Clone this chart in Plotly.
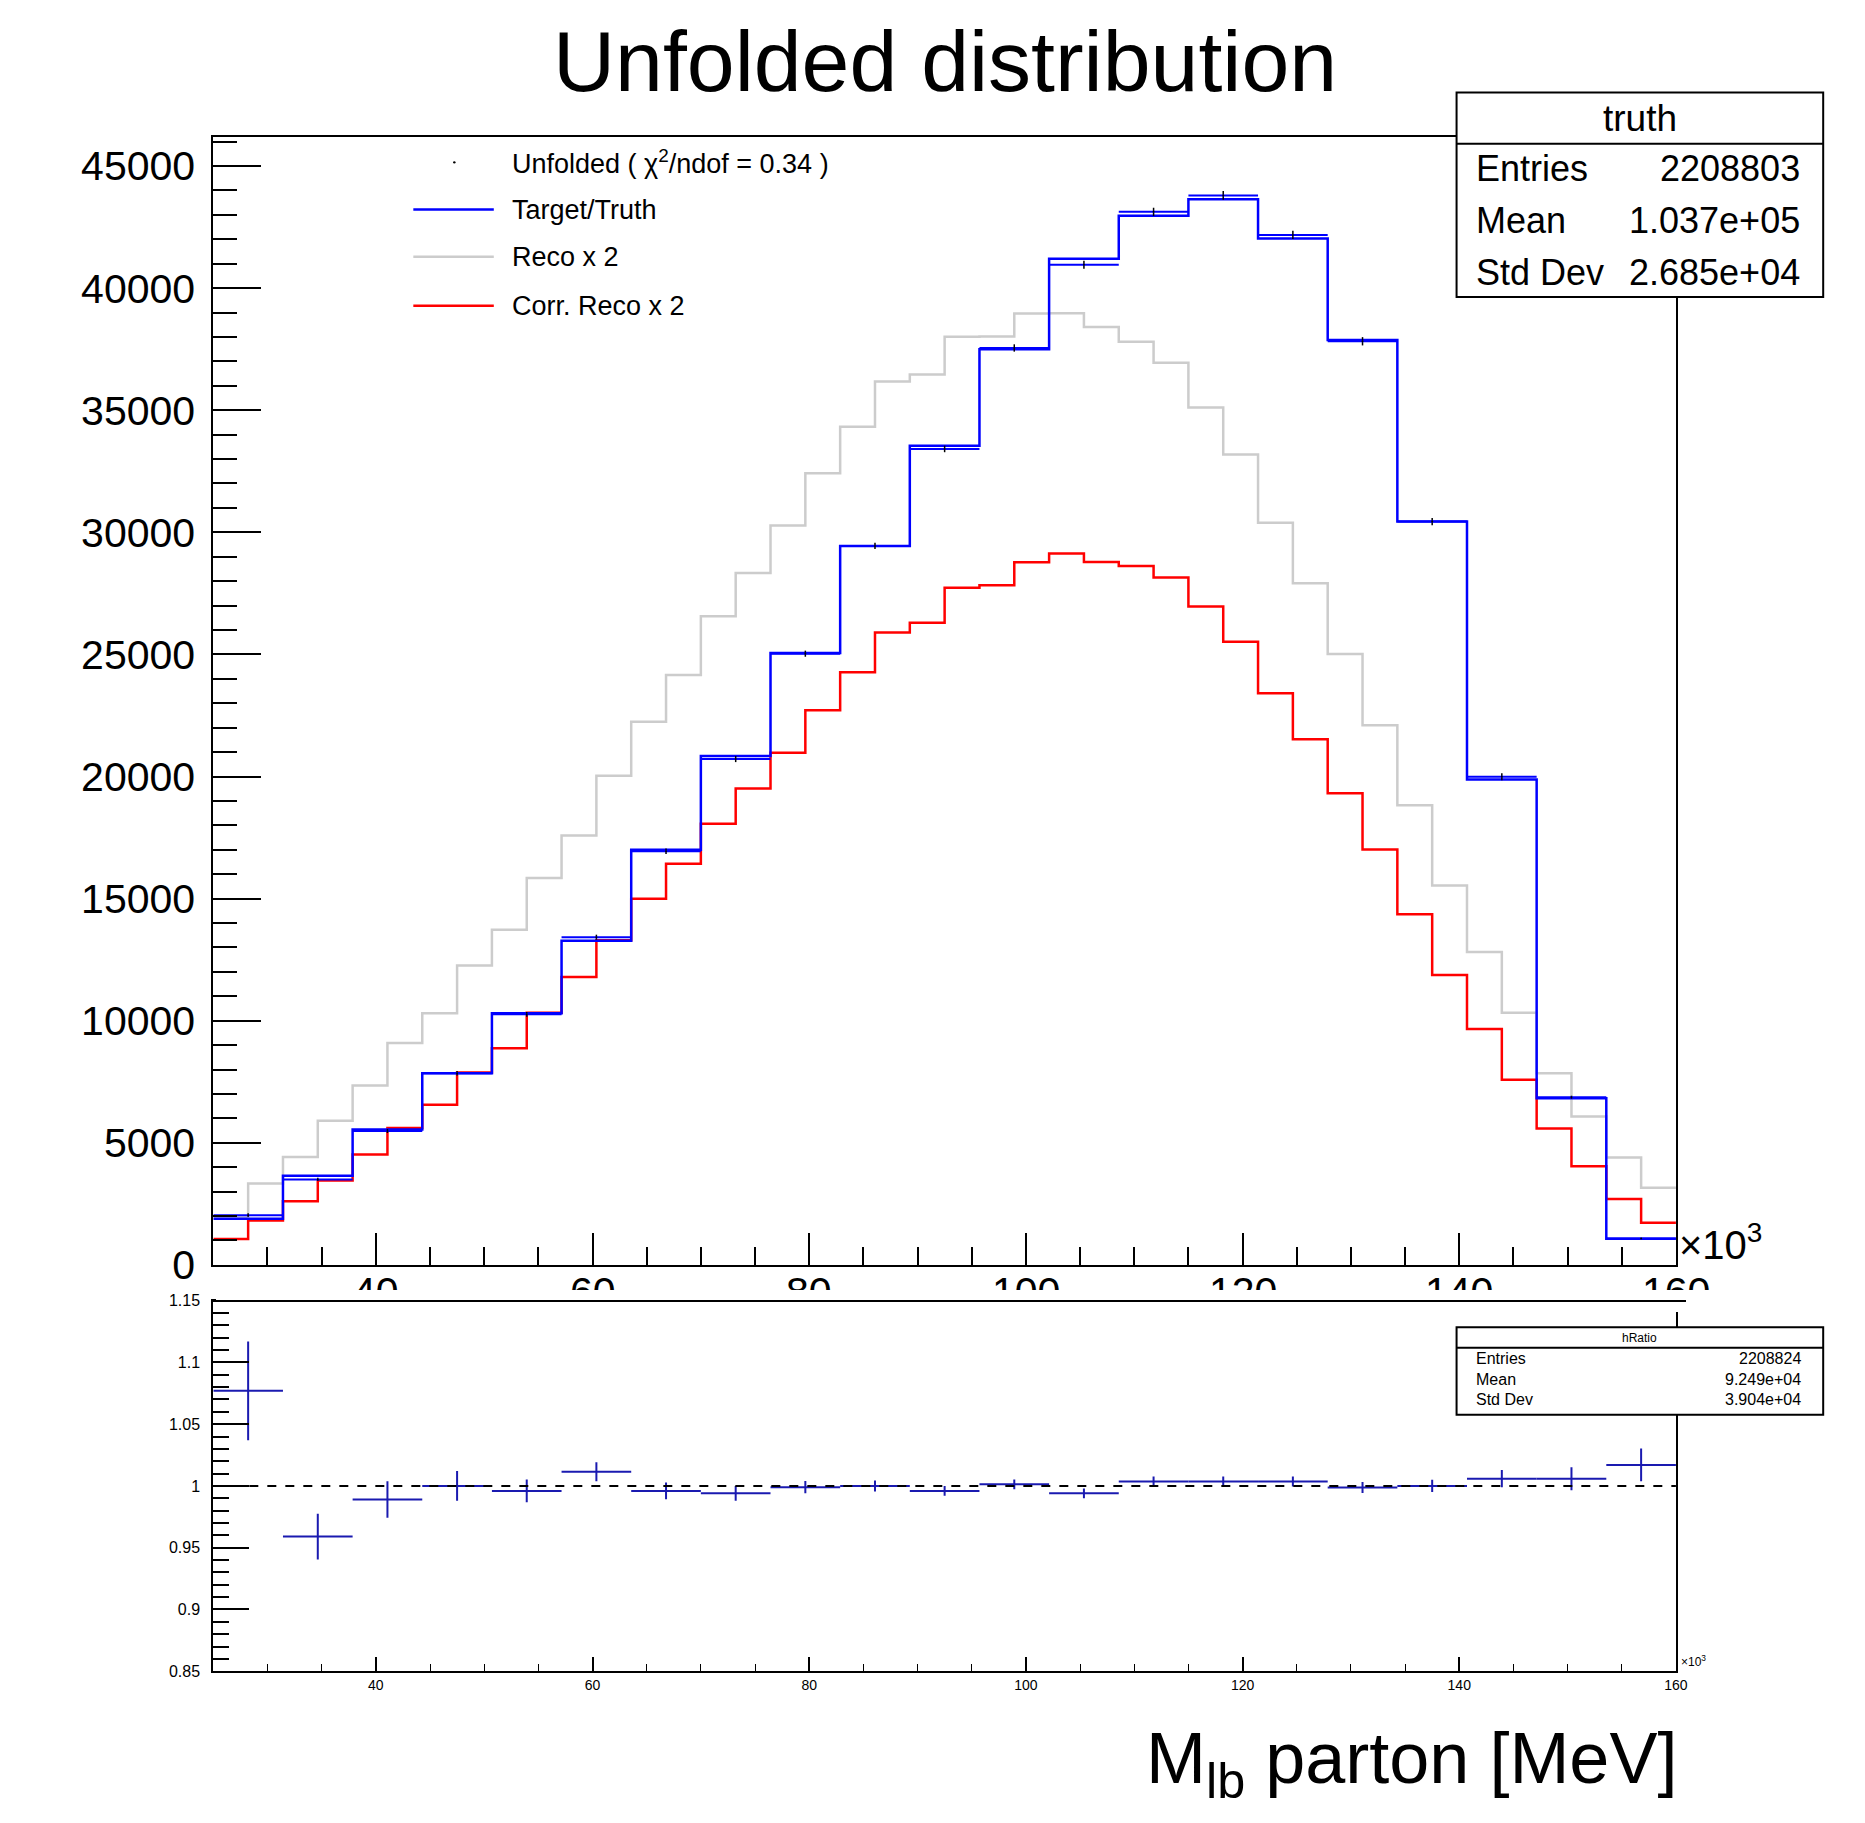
import numpy as np
import plotly.graph_objects as go

# ---------------- data ----------------
x_min, x_max = 25.0, 160.0          # x in units of 10^3 MeV
n_truth_bins = 21
n_reco_bins = 42

truth = [1890, 3650, 5540, 7845, 10300, 13270, 17005, 20840, 25055, 29445, 33550,
         37500, 41200, 42970, 43640, 42030, 37875, 30440, 19875, 6825, 1065]
unfolded = [2035, 3500, 5480, 7845, 10260, 13420, 16940, 20715, 25030, 29445, 33415,
            37550, 40960, 43125, 43800, 42180, 37825, 30440, 19990, 6865, 1083]
unfolded_err = [75, 68, 81, 94, 96, 102, 114, 125, 125, 132, 134,
                150, 165, 172, 175, 168, 170, 152, 139, 64, 14]
reco_x2 = [1950, 3330, 4420, 5905, 7345, 9085, 10300, 12265, 13720, 15840, 17580,
           20035, 22240, 24160, 26565, 28335, 30275, 32415, 34325, 36175, 36465,
           38010, 38020, 38960, 38975, 38410, 37810, 36950, 35115, 33190, 30390,
           27920, 25020, 22095, 18820, 15540, 12810, 10330, 7850, 6080, 4395, 3155]
corr_reco_x2 = [1060, 1815, 2605, 3455, 4515, 5605, 6560, 7875, 8875, 10330, 11785,
                13295, 14995, 16430, 18065, 19505, 20975, 22715, 24265, 25900, 26300,
                27730, 27830, 28780, 29135, 28790, 28620, 28150, 26960, 25520, 23405,
                21530, 19315, 17010, 14355, 11870, 9655, 7585, 5580, 4040, 2695, 1720]
ratio = [1.077, 0.959, 0.989, 1.000, 0.996, 1.0115, 0.996, 0.994, 0.999, 1.000, 0.996,
         1.0013, 0.994, 1.0036, 1.0036, 1.0036, 0.9987, 1.000, 1.0059, 1.0059, 1.017]
ratio_err = [0.040, 0.0185, 0.0147, 0.012, 0.0093, 0.0077, 0.0067, 0.006, 0.005, 0.0045, 0.004,
             0.004, 0.004, 0.004, 0.004, 0.004, 0.0045, 0.005, 0.007, 0.0093, 0.0133]

top_xtick_vals = [40, 60, 80, 100, 120, 140, 160]
top_xtick_text = ["40", "60", "80", "100", "120", "140", "160"]
ratio_tickvals = [0.85, 0.9, 0.95, 1.0, 1.05, 1.1, 1.15]
ratio_ticktext = ["0.85", "0.9", "0.95", "1", "1.05", "1.1", "1.15"]

title_text = "Unfolded distribution"
legend_labels = ["Unfolded ( χ<sup>2</sup>/ndof = 0.34 )", "Target/Truth", "Reco x 2", "Corr. Reco x 2"]
stats_truth = [("Entries", "2208803"), ("Mean", "1.037e+05"), ("Std Dev", "2.685e+04")]
stats_ratio = [("Entries", "2208824"), ("Mean", "9.249e+04"), ("Std Dev", "3.904e+04")]

# ---------------- geometry helpers (image pixel -> paper) ----------------
W, H = 1865, 1823
def px(x):
    return x / W
def py(y):
    return 1 - y / H

FONT = "Liberation Sans, Arial, Helvetica, sans-serif"
BLUE = "#0000ff"
RED = "#ff0000"
GRAY = "#cccccc"
PAPER = "white"

edges_t = np.linspace(x_min, x_max, n_truth_bins + 1)
centers_t = 0.5 * (edges_t[:-1] + edges_t[1:])
half_t = np.diff(edges_t) / 2
edges_r = np.linspace(x_min, x_max, n_reco_bins + 1)

def step(edges, vals):
    return list(edges), list(vals) + [vals[-1]]

fig = go.Figure()
xs, ys = step(edges_r, reco_x2)
fig.add_trace(go.Scatter(x=xs, y=ys, mode="lines", line=dict(color=GRAY, width=2.5, shape="hv"),
                         xaxis="x", yaxis="y", name="Reco x 2"))
xs, ys = step(edges_r, corr_reco_x2)
fig.add_trace(go.Scatter(x=xs, y=ys, mode="lines", line=dict(color=RED, width=2.5, shape="hv"),
                         xaxis="x", yaxis="y", name="Corr. Reco x 2"))
xs, ys = step(edges_t, truth)
fig.add_trace(go.Scatter(x=xs, y=ys, mode="lines", line=dict(color=BLUE, width=2.5, shape="hv"),
                         xaxis="x", yaxis="y", name="Target/Truth"))
fig.add_trace(go.Scatter(x=centers_t, y=unfolded, mode="markers",
                         marker=dict(color="black", size=2),
                         error_x=dict(type="data", array=half_t, color=BLUE, thickness=2, width=0),
                         error_y=dict(type="data", array=unfolded_err, color="black", thickness=1.5, width=0),
                         xaxis="x", yaxis="y", name="Unfolded"))
fig.add_trace(go.Scatter(x=centers_t, y=ratio, mode="markers",
                         marker=dict(color="#1a1ab0", size=1),
                         error_x=dict(type="data", array=half_t, color="#1a1ab0", thickness=2, width=0),
                         error_y=dict(type="data", array=ratio_err, color="#1a1ab0", thickness=2, width=0),
                         xaxis="x2", yaxis="y2", name="hRatio"))

x_dom = [px(214.7), px(1686.8)]
axis_common = dict(showline=True, linecolor="black", linewidth=2, mirror=True,
                   showgrid=False, zeroline=False, ticks="inside", tickcolor="black",
                   tickwidth=1.5)

fig.update_layout(
    width=W, height=H, margin=dict(l=0, r=0, t=0, b=0),
    paper_bgcolor=PAPER, plot_bgcolor="white", showlegend=False,
    font=dict(family=FONT, color="black"),
    xaxis=dict(domain=x_dom, range=[x_min, x_max], anchor="y", dtick=20, ticklen=32,
               minor=dict(dtick=5, ticklen=18, ticks="inside", tickcolor="black", tickwidth=1.5),
               showticklabels=False, **axis_common),
    yaxis=dict(domain=[py(1278.6), py(130.8)], range=[0, 46208], anchor="x", dtick=5000,
               ticklen=48, tickformat="d",
               minor=dict(dtick=1000, ticklen=24, ticks="inside", tickcolor="black", tickwidth=1.5),
               tickfont=dict(size=41, family=FONT), ticklabelstandoff=8, **axis_common),
    xaxis2=dict(domain=x_dom, range=[x_min, x_max], anchor="y2", dtick=20, ticklen=14,
                minor=dict(dtick=5, ticklen=7, ticks="inside", tickcolor="black", tickwidth=1),
                tickfont=dict(size=14, family=FONT), ticklabelstandoff=0, **axis_common),
    yaxis2=dict(domain=[py(1692), py(1315)], range=[0.85, 1.15], anchor="x2",
                tickvals=ratio_tickvals, ticktext=ratio_ticktext, ticklen=36,
                minor=dict(dtick=0.01, ticklen=16, ticks="inside", tickcolor="black", tickwidth=1.5),
                tickfont=dict(size=16, family=FONT), ticklabelstandoff=8, **axis_common),
)

shapes = []
annotations = []

shapes.append(dict(type="line", xref="x2", yref="y2", x0=x_min, x1=x_max, y0=1, y1=1,
                   line=dict(color="black", width=2, dash="dash"), layer="above"))

# title
annotations.append(dict(text=title_text, x=px(951), y=py(54), xref="paper", yref="paper",
                        showarrow=False, xanchor="center", yanchor="middle",
                        font=dict(size=86, family=FONT)))

# legend
leg_rows = [157, 205, 253, 303]
leg_colors = [None, BLUE, GRAY, RED]
for lab, yy, col in zip(legend_labels, leg_rows, leg_colors):
    if col is None:
        shapes.append(dict(type="circle", xref="paper", yref="paper",
                           x0=px(456), x1=px(458.5), y0=py(yy + 1.2), y1=py(yy - 1.2),
                           fillcolor="black", line=dict(width=0), layer="above"))
    else:
        shapes.append(dict(type="line", xref="paper", yref="paper", x0=px(416), x1=px(497),
                           y0=py(yy), y1=py(yy), line=dict(color=col, width=2.5), layer="above"))
    annotations.append(dict(text=lab, x=px(513), y=py(yy), xref="paper", yref="paper",
                            showarrow=False, xanchor="left", yanchor="middle",
                            font=dict(size=27, family=FONT)))

def stats_box(x0, x1, y0, ysep, y1, title, rows, row_ys, fsize, tsize, lx, rx):
    shapes.append(dict(type="rect", xref="paper", yref="paper", x0=px(x0), x1=px(x1),
                       y0=py(y1), y1=py(y0), fillcolor="white",
                       line=dict(color="black", width=2), layer="above"))
    shapes.append(dict(type="line", xref="paper", yref="paper", x0=px(x0), x1=px(x1),
                       y0=py(ysep), y1=py(ysep), line=dict(color="black", width=2), layer="above"))
    annotations.append(dict(text=title, x=px((x0 + x1) / 2), y=py((y0 + ysep) / 2),
                            xref="paper", yref="paper", showarrow=False,
                            xanchor="center", yanchor="middle", font=dict(size=tsize, family=FONT)))
    for (k, v), yy in zip(rows, row_ys):
        annotations.append(dict(text=k, x=px(lx), y=py(yy), xref="paper", yref="paper",
                                showarrow=False, xanchor="left", yanchor="middle",
                                font=dict(size=fsize, family=FONT)))
        annotations.append(dict(text=v, x=px(rx), y=py(yy), xref="paper", yref="paper",
                                showarrow=False, xanchor="right", yanchor="middle",
                                font=dict(size=fsize, family=FONT)))

stats_box(1466, 1835, 86, 138, 294, "truth", stats_truth, [163, 216, 269], 36, 37, 1484, 1814)
stats_box(1466, 1835, 1342, 1363, 1431, "hRatio", stats_ratio, [1374, 1395, 1416], 16, 12, 1484, 1815)

annotations.append(dict(text="×10<sup>3</sup>", x=px(1688), y=py(1283), xref="paper", yref="paper",
                        showarrow=False, xanchor="left", yanchor="bottom",
                        font=dict(size=40, family=FONT)))
annotations.append(dict(text="×10<sup>3</sup>", x=px(1690), y=py(1692), xref="paper", yref="paper",
                        showarrow=False, xanchor="left", yanchor="bottom",
                        font=dict(size=12, family=FONT)))
annotations.append(dict(text="M<sub>lb</sub> parton [MeV]", x=px(1690), y=py(1786), xref="paper",
                        yref="paper", showarrow=False, xanchor="right", yanchor="middle",
                        font=dict(size=72, family=FONT)))

# top-pad x tick labels, cut off by the lower pad as in ROOT
for v, t in zip(top_xtick_vals, top_xtick_text):
    annotations.append(dict(text=t, x=v, xref="x", y=py(1281), yref="paper", showarrow=False,
                            xanchor="center", yanchor="top", font=dict(size=41, family=FONT)))
# covers (annotations drawn later sit on top of earlier ones)
annotations.append(dict(text=" ", x=px(217), y=py(1304), xref="paper", yref="paper", showarrow=False,
                        xanchor="left", yanchor="top", width=1468, height=22, borderpad=0,
                        borderwidth=0, bgcolor=PAPER))
annotations.append(dict(text=" ", x=px(1689), y=py(1304), xref="paper", yref="paper", showarrow=False,
                        xanchor="left", yanchor="top", width=52, height=22, borderpad=0,
                        borderwidth=0, bgcolor=PAPER))
# redraw the lower pad's top frame line over the cover
annotations.append(dict(text=" ", x=px(213.7), y=py(1314), xref="paper", yref="paper", showarrow=False,
                        xanchor="left", yanchor="top", width=1474, height=2, borderpad=0,
                        borderwidth=0, bgcolor="black"))

fig.update_layout(shapes=shapes, annotations=annotations)
fig.write_html("out.html")
